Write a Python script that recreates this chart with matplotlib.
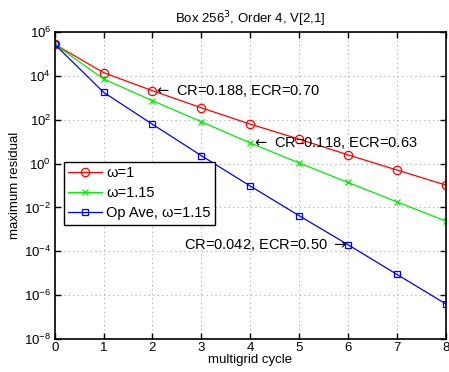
import numpy as np
import matplotlib
matplotlib.use("Agg")
import matplotlib.pyplot as plt
from matplotlib.ticker import NullLocator

cycles = [0, 1, 2, 3, 4, 5, 6, 7, 8]
res_w1 = [2.75e5, 1.4e4, 2.1e3, 350, 63, 13, 2.5, 0.51, 0.105]
res_w115 = [2.75e5, 7.2e3, 740, 81, 8.7, 1.07, 0.138, 0.018, 0.0024]
res_opave = [2.75e5, 1780, 62, 2.3, 0.095, 0.0042, 2.0e-4, 8.9e-6, 4.0e-7]
yticks = [1e-8, 1e-6, 1e-4, 1e-2, 1e0, 1e2, 1e4, 1e6]

labels = ["\u03c9=1", "\u03c9=1.15", "Op Ave, \u03c9=1.15"]
notes = [r"$\leftarrow$ CR=0.188, ECR=0.70",
         r"$\leftarrow$ CR=0.118, ECR=0.63",
         r"CR=0.042, ECR=0.50 $\rightarrow$"]

plt.rcParams['font.family'] = ['Liberation Sans', 'DejaVu Sans']

fig = plt.figure(figsize=(4.49, 3.72), dpi=100)
ax = fig.add_axes([0.1218, 0.0887, 0.8709, 0.8253])

ax.semilogy(cycles, res_w1, '-o', color='#ff0000', lw=0.9, ms=6, mfc='none', mew=0.9, label=labels[0])
ax.semilogy(cycles, res_w115, '-x', color='#00ee00', lw=0.9, ms=4, mew=0.9, label=labels[1])
ax.semilogy(cycles, res_opave, '-s', color='#0000ff', lw=0.9, ms=5, mfc='none', mew=0.9, label=labels[2])

ax.set_xlim(0, 8)
ax.set_ylim(1e-8, 1e6)
ax.set_xticks(cycles)
ax.set_yticks(yticks)
ax.yaxis.set_minor_locator(NullLocator())
ax.grid(True, which='major', ls=(0, (1, 3)), color='#aaaaaa', lw=0.8)
ax.tick_params(direction='in', top=True, right=True, length=4, width=1, labelsize=9.5, pad=2.5)
for s in ax.spines.values():
    s.set_linewidth(1.2)

ax.set_xlabel("multigrid cycle", fontsize=9.5, labelpad=0)
ax.set_ylabel("maximum residual", fontsize=9.5, labelpad=2)
ax.set_title("Box 256$^3$, Order 4, V[2,1]", fontsize=9.5, pad=6)

ax.text(2.03, res_w1[2], notes[0], fontsize=10.5, ha='left', va='center')
ax.text(4.03, res_w115[4], notes[1], fontsize=10.5, ha='left', va='center')
ax.text(5.97, res_opave[6], notes[2], fontsize=10.5, ha='right', va='center')

leg = ax.legend(loc='upper left', bbox_to_anchor=(0.005, 0.6), fontsize=10.5,
                fancybox=False, framealpha=1, edgecolor='black',
                handlelength=2.3, borderpad=0.3, labelspacing=0.4, handletextpad=0.3)
leg.get_frame().set_linewidth(1.0)

fig.savefig("out.png", dpi=100)
